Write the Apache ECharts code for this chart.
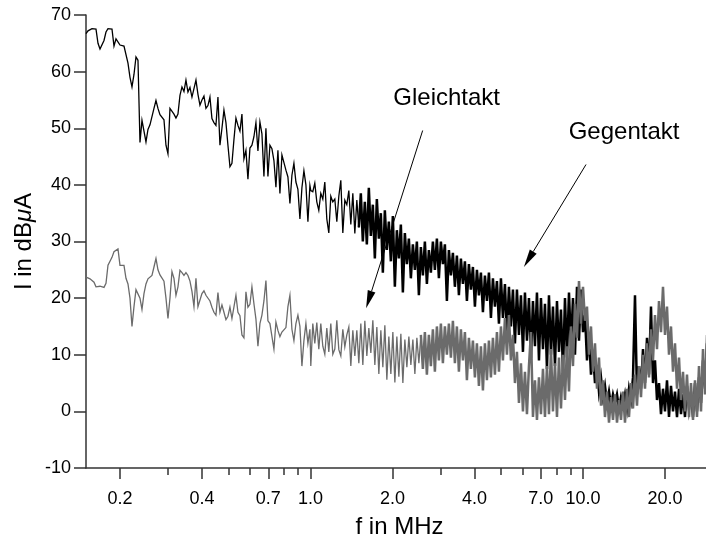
<!DOCTYPE html>
<html>
<head>
<meta charset="utf-8">
<script src="https://cdn.jsdelivr.net/npm/echarts@6.0.0/dist/echarts.min.js"></script>
<style>
html, body { margin: 0; padding: 0; background: #fff; }
#chart { width: 706px; height: 537px; }
</style>
</head>
<body>
<div id="chart"></div>
<script>
// Achsenbeschriftung (f in MHz)
const freqLabels = [0.2, 0.4, 0.7, 1, 2, 4, 7, 10, 20]
const freqMinor = [0.3, 0.5, 0.6, 0.8, 0.9, 3, 5, 6, 8, 9, 30]

// Messraster je Abschnitt (Start- und Endfrequenz in MHz, log. gleichabständig)
const abschnittA = [0.15, 0.995]
const abschnittB = [1.0025, 10.0]
const abschnittC = [10.17, 30.0]

// ab hier ist die Kurve so dicht, dass sie als Band erscheint (MHz)
const gegenDichtAb = 1.5
const gleichDichtAb = 2.5

// Gegentakt (schwarz), Pegel in dBµA
const gegenA = [
	66.7, 67.2, 67.5, 67.6, 67.7, 67.5, 65.0, 64.0, 63.8, 65.5,
	67.0, 67.6, 67.7, 67.5, 64.5, 65.8, 65.5, 64.7, 64.5, 64.5,
	64.5, 61.5, 59.0, 57.3, 59.5, 62.6, 62.0, 47.5, 51.4, 51.3,
	47.6, 49.8, 50.6, 50.6, 53.5, 54.9, 53.5, 52.4, 52.6, 51.5,
	47.0, 45.5, 53.5, 53.5, 52.5, 51.8, 52.5, 55.8, 57.3, 56.5,
	58.5, 56.4, 57.2, 55.5, 57.0, 58.5, 56.0, 54.1, 55.0, 55.7,
	53.5, 54.0, 55.5, 51.7, 51.0, 50.5, 55.5, 47.0, 50.0, 53.2,
	51.0, 47.0, 43.2, 43.8, 48.0, 51.8, 50.5, 49.5, 52.5, 44.6,
	46.1, 41.0, 46.5, 47.0, 48.5, 51.0, 46.0, 51.1, 49.0, 41.5,
	50.0, 41.5, 47.0, 46.4, 44.3, 39.6, 46.1, 38.5, 45.3, 45.0,
	42.6, 41.4, 36.7, 41.7, 43.8, 40.5, 39.2, 34.0, 39.5, 42.5,
	40.0, 33.5, 39.9
]
const gegenB = [
	39.0, 38.8, 40.3, 37.0, 35.5, 38.5, 37.5, 40.5, 34.0, 31.5,
	38.0, 37.0, 37.5, 33.5, 38.0, 40.8, 31.5, 37.3, 36.5, 39.0,
	33.0, 38.5, 31.4, 37.3, 32.5,
	38.5, 30.0, 37.0, 29.5, 39.5, 31.0, 36.5, 27.0, 37.5, 30.5,
	35.0, 24.5, 35.5, 28.5, 33.5, 26.5, 34.5, 22.0, 32.0, 27.0,
	33.0, 21.0, 31.5, 26.0, 30.5, 23.5, 29.5, 25.0, 30.0, 20.5,
	29.0, 24.0, 30.0, 22.5, 28.5, 24.5, 30.0, 25.0, 30.5, 23.5,
	30.0, 26.0, 29.5, 19.5, 28.5, 24.0, 28.0, 22.0, 27.5, 20.5,
	27.0, 22.5, 26.5, 19.5, 26.0, 21.5, 25.5, 18.5, 25.0, 20.5,
	24.5, 17.5, 24.0, 19.5, 24.5, 16.5, 23.5, 18.5, 23.0, 15.5,
	23.5, 16.5, 22.5, 13.5, 22.0, 15.0, 21.5, 12.0, 21.5, 13.5,
	20.5, 10.5, 21.0, 12.5, 20.0, 9.5, 19.5, 11.5, 21.0, 9.0,
	20.0, 11.0, 19.0, 7.5, 20.5, 10.0, 18.5, 8.0, 19.5, 10.5,
	18.0, 7.0, 20.0, 9.5, 21.0, 11.5, 20.0, 10.0, 22.0, 12.5,
	21.5, 14.0
]
const gegenC = [
	17.0, 9.0, 14.0, 6.5, 10.5, 5.0, 8.0, 3.5, 6.0, 2.5,
	4.5, 1.5, 3.5, 1.0, 3.0, 1.5, 3.0, 0.5, 2.5, 1.0,
	3.0, 0.5, 4.0, 2.0, 6.0, 20.5, 3.0, 8.0, 4.0, 11.0,
	5.0, 13.0, 6.5, 18.5, 5.0, 9.0, 2.0, 5.0, -0.5, 4.0,
	0.0, 5.5, -1.0, 4.5, 0.0, 3.5, -1.0, 4.0, -0.5, 3.0,
	-1.0, 4.5, 0.5, 3.5, -1.0, 5.0, 0.0, 6.0, 1.5, 9.0,
	4.0, 12.0, 6.0, 13.0, 8.0
]

// Gleichtakt (grau), Pegel in dBµA
const gleichA = [
	23.7, 23.6, 23.4, 23.2, 22.8, 22.0, 22.3, 22.1, 21.8, 21.9,
	22.6, 25.8, 26.5, 27.2, 28.2, 28.5, 28.7, 25.8, 25.8, 25.8,
	23.5, 22.5, 20.0, 15.0, 18.5, 21.5, 21.5, 20.0, 18.0, 20.8,
	22.5, 23.4, 23.6, 24.0, 25.5, 27.0, 25.0, 24.1, 24.0, 23.0,
	20.0, 16.4, 20.0, 24.7, 23.5, 20.5, 22.0, 24.9, 24.5, 24.0,
	24.5, 24.0, 23.0, 21.2, 18.5, 23.5, 18.5, 18.8, 20.8, 21.3,
	20.5, 20.5, 19.5, 18.4, 17.5, 17.0, 21.0, 17.5, 18.8, 17.5,
	16.2, 16.8, 18.4, 16.4, 16.4, 20.5, 17.5, 16.9, 13.5, 13.0,
	21.1, 18.4, 18.9, 22.0, 19.0, 16.3, 11.5, 15.5, 17.0, 19.5,
	23.1, 16.0, 15.5, 15.6, 11.0, 15.8, 14.3, 13.2, 14.0, 14.0,
	14.8, 18.5, 20.5, 14.5, 12.5, 15.5, 17.0, 15.0, 8.0, 12.5,
	15.5, 12.0, 14.5
]
const gleichB = [
	8.0, 15.5, 12.0, 15.7, 11.0, 15.5, 11.5, 10.1, 14.7, 10.5,
	15.5, 10.1, 11.0, 16.1, 10.9, 9.8, 14.5, 11.4, 13.5, 14.9,
	8.0, 14.3, 9.8, 14.3, 8.5, 15.5, 8.2, 16.0, 9.8, 14.7,
	10.3, 16.1, 8.2, 14.9, 6.6, 14.3, 7.8, 15.2, 5.6, 13.2,
	6.6, 14.0, 5.1, 13.2, 6.1, 13.7, 5.0, 12.7, 7.8, 13.2,
	8.2, 12.7, 6.6, 13.0, 8.5,
	13.5, 7.5, 14.0, 6.5, 13.5, 8.0, 14.5, 7.0, 15.0, 9.0,
	15.5, 8.5, 15.0, 10.0, 15.5, 9.5, 16.0, 8.5, 15.0, 7.0,
	14.5, 9.0, 14.0, 5.5, 13.0, 7.5, 12.5, 6.0, 12.0, 4.5,
	11.5, 3.7, 12.0, 5.5, 12.5, 6.0, 13.0, 6.5, 14.0, 7.0,
	15.0, 9.0, 16.5, 10.0, 17.0, 9.0, 13.5, 5.0, 10.5, 1.5,
	8.5, 0.0, 7.0, -0.5, 8.0, 14.0, -1.0, 5.5, -1.5, 6.0,
	-0.5, 7.5, -1.0, 8.0, -0.5, 11.0, 0.0, 8.5, -1.0, 9.5,
	0.5, 10.0, 2.0, 11.5, 3.5, 15.0, 8.0, 19.0, 13.0, 23.0,
	15.5, 22.0
]
const gleichC = [
	16.0, 18.5, 10.0, 15.0, 7.0, 12.0, 4.0, 9.5, 1.0, 5.5,
	-1.0, 3.5, -2.0, 2.5, -1.5, 3.0, -2.0, 2.0, -1.5, 3.5,
	-2.0, 4.0, -1.0, 5.0, 0.5, 6.5, 1.0, 8.0, 2.5, 10.0,
	4.0, 12.0, 6.0, 14.5, 9.0, 17.0, 11.0, 19.5, 14.0, 22.0,
	13.5, 18.5, 10.0, 15.0, 7.0, 12.0, 4.0, 9.5, 2.0, 7.0,
	0.0, 6.5, -1.0, 5.0, -1.5, 5.5, -1.0, 8.0, 0.0, 11.0,
	3.0, 13.5, 6.0, 14.0, 8.0
]

// Beschriftungen und Pfeile (in Datenkoordinaten: f in MHz, Pegel in dBµA)
const notizText = ['Gleichtakt', 'Gegentakt']
const notizPos = [[3.16, 55.2], [14.15, 49.3]]
const pfeilVon = [[2.58, 49.6], [10.26, 43.6]]
const pfeilBis = [[1.60, 18.2], [6.07, 25.5]]

const schrift = '"Liberation Sans", Arial, Helvetica, sans-serif'
const achsenFarbe = '#333'

// Werte eines Abschnitts auf das Frequenzraster legen
const punkte = (werte, bereich) => {
	const n = werte.length
	return werte.map((v, i) => [bereich[0] * Math.pow(bereich[1] / bereich[0], i / (n - 1)), v])
}

// Kurve in lockeren und dichten Teil trennen (ein Punkt überlappt)
const teilen = (daten, grenze) => {
	let k = daten.findIndex(p => p[0] >= grenze)
	return [daten.slice(0, k + 1), daten.slice(k)]
}

const gegenDaten = [].concat(punkte(gegenA, abschnittA), punkte(gegenB, abschnittB), punkte(gegenC, abschnittC))
const gleichDaten = [].concat(punkte(gleichA, abschnittA), punkte(gleichB, abschnittB), punkte(gleichC, abschnittC))
const gegenTeile = teilen(gegenDaten, gegenDichtAb)
const gleichTeile = teilen(gleichDaten, gleichDichtAb)

const linie = (name, daten, farbe, breite, z) => ({
	name: name,
	type: 'line',
	data: daten,
	showSymbol: false,
	symbol: 'none',
	lineStyle: { color: farbe, width: breite, join: 'miter' },
	z: z
})

const chart = echarts.init(document.getElementById('chart'))

const option = {
	animation: false,
	backgroundColor: '#fff',
	grid: {
		left: 86,
		top: 15,
		width: 627,
		height: 453,
		outerBoundsMode: 'none'
	},
	xAxis: [{
		type: 'log',
		logBase: 10,
		min: 0.15,
		max: 30,
		name: 'f in MHz',
		nameLocation: 'middle',
		nameGap: 47,
		nameMoveOverlap: false,
		nameTextStyle: { fontSize: 24, color: '#000', fontFamily: schrift },
		axisLine: { show: true, onZero: false, lineStyle: { color: achsenFarbe, width: 1.5 } },
		axisTick: { show: true, length: 11, customValues: freqLabels, lineStyle: { color: achsenFarbe, width: 1.5 } },
		axisLabel: {
			customValues: freqLabels,
			formatter: (v) => Number(v).toFixed(1),
			fontSize: 18,
			margin: 22,
			color: '#000',
			fontFamily: schrift
		},
		splitLine: { show: false },
		minorTick: { show: false }
	}, {
		type: 'log',
		logBase: 10,
		min: 0.15,
		max: 30,
		position: 'bottom',
		axisLine: { show: false, onZero: false },
		axisTick: { show: true, length: 7, customValues: freqMinor, lineStyle: { color: achsenFarbe, width: 1.5 } },
		axisLabel: { show: false },
		splitLine: { show: false }
	}],
	yAxis: {
		type: 'value',
		min: -10,
		max: 70,
		interval: 10,
		name: 'I in dB{mu|μ}A',
		nameLocation: 'middle',
		nameRotate: 90,
		nameGap: 50,
		nameMoveOverlap: false,
		nameTextStyle: {
			fontSize: 24,
			color: '#000',
			fontFamily: schrift,
			rich: { mu: { fontSize: 24, fontStyle: 'italic', color: '#000', fontFamily: schrift } }
		},
		axisLine: { show: true, onZero: false, lineStyle: { color: achsenFarbe, width: 1.5 } },
		axisTick: { show: true, length: 12, lineStyle: { color: achsenFarbe, width: 1.5 } },
		axisLabel: { fontSize: 18, margin: 15, color: '#000', fontFamily: schrift },
		splitLine: { show: false }
	},
	series: [
		linie('Gegentakt', gegenTeile[0], '#000', 1.3, 2),
		linie('Gegentakt', gegenTeile[1], '#000', 2.5, 2),
		linie('Gleichtakt', gleichTeile[0], '#6b6b6b', 1.3, 3),
		linie('Gleichtakt', gleichTeile[1], '#6b6b6b', 2.5, 3)
	]
}

chart.setOption(option)

// Texte und Pfeile über die Achsen in Pixel umrechnen
const grafik = []
notizText.forEach((t, i) => {
	const p = chart.convertToPixel({ gridIndex: 0 }, notizPos[i])
	grafik.push({
		type: 'text',
		x: p[0],
		y: p[1],
		z: 10,
		style: { text: t, fontSize: 24, fontFamily: schrift, fill: '#000', align: 'center', verticalAlign: 'middle' }
	})
})
pfeilVon.forEach((von, i) => {
	const a = chart.convertToPixel({ gridIndex: 0 }, von)
	const b = chart.convertToPixel({ gridIndex: 0 }, pfeilBis[i])
	const dx = b[0] - a[0], dy = b[1] - a[1]
	const len = Math.sqrt(dx * dx + dy * dy)
	const ux = dx / len, uy = dy / len
	const sx = b[0] - ux * 18, sy = b[1] - uy * 18
	grafik.push({
		type: 'line',
		z: 10,
		shape: { x1: a[0], y1: a[1], x2: sx, y2: sy },
		style: { stroke: '#000', lineWidth: 1 }
	})
	grafik.push({
		type: 'polygon',
		z: 10,
		shape: { points: [[b[0], b[1]], [sx - uy * 4, sy + ux * 4], [sx + uy * 4, sy - ux * 4]] },
		style: { fill: '#000' }
	})
})
chart.setOption({ graphic: grafik })
</script>
</body>
</html>
